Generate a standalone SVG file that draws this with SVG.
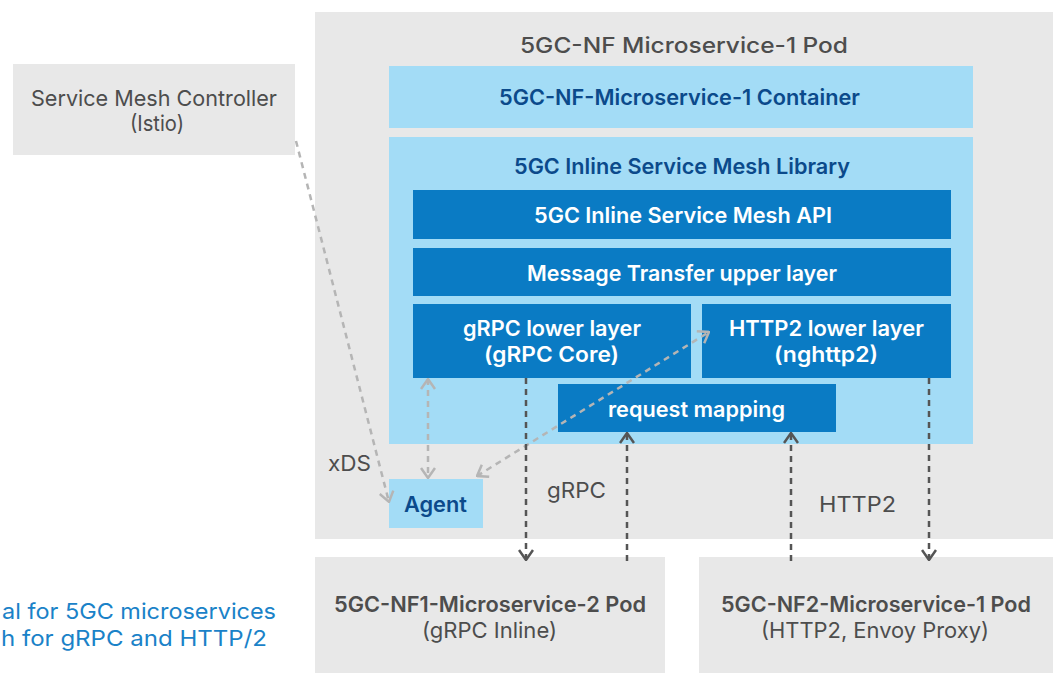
<svg xmlns="http://www.w3.org/2000/svg" width="1053" height="673" viewBox="0 0 1053 673">
  <style>
    .pod { fill: #e8e8e8; }
    .lblue { fill: #a3dcf6; }
    .dblue { fill: #0a7bc4; }
    text { font-family: "Inter", "Liberation Sans", sans-serif; }
    .gray { fill: #4d4d4d; font-size: 22px; }
    .title { fill: #4d4d4d; font-size: 22px; font-weight: 500; }
    .navy { fill: #0b4a8b; font-size: 21.5px; font-weight: 600; }
    .white { fill: #ffffff; font-size: 21.5px; font-weight: 600; }
    .caption { fill: #1a82c8; font-size: 22px; }
    .light { fill: none; stroke: #b5b5b5; stroke-width: 2.5; stroke-dasharray: 6 5; }
    .dark { fill: none; stroke: #555555; stroke-width: 2.5; stroke-dasharray: 6 5; }
  </style>
  <defs>
    <marker id="chevLight" viewBox="0 0 12 16" refX="11" refY="8" markerWidth="12" markerHeight="16" markerUnits="userSpaceOnUse" orient="auto-start-reverse">
      <path d="M1,1 L11,8 L1,15" fill="none" stroke="#b5b5b5" stroke-width="2.5"/>
    </marker>
    <marker id="chevDark" viewBox="0 0 12 16" refX="11" refY="8" markerWidth="12" markerHeight="16" markerUnits="userSpaceOnUse" orient="auto-start-reverse">
      <path d="M1,1 L11,8 L1,15" fill="none" stroke="#555555" stroke-width="2.5"/>
    </marker>
  </defs>

  <rect width="1053" height="673" fill="#ffffff"/>

  <!-- caption fragment at left -->
  <g id="caption">
    <text class="caption" x="2" y="619" textLength="274" lengthAdjust="spacingAndGlyphs">al for 5GC microservices</text>
    <text class="caption" x="1" y="646" textLength="266" lengthAdjust="spacingAndGlyphs">h for gRPC and HTTP/2</text>
  </g>

  <g id="controller">
    <rect class="pod" x="13" y="64" width="282" height="91"/>
    <text class="gray" x="31" y="106" textLength="246" lengthAdjust="spacingAndGlyphs">Service Mesh Controller</text>
    <text class="gray" x="130" y="131" textLength="54" lengthAdjust="spacingAndGlyphs">(Istio)</text>
  </g>

  <g id="pod-main">
    <rect class="pod" x="315" y="12" width="738" height="527"/>
    <text class="title" x="520" y="53" textLength="328" lengthAdjust="spacingAndGlyphs">5GC-NF Microservice-1 Pod</text>
  </g>

  <g id="container">
    <rect class="lblue" x="389" y="66" width="584" height="62"/>
    <text class="navy" x="499" y="105" textLength="361" lengthAdjust="spacingAndGlyphs">5GC-NF-Microservice-1 Container</text>
  </g>

  <g id="library">
    <rect class="lblue" x="389" y="137" width="584" height="307"/>
    <text class="navy" x="514" y="174" textLength="336" lengthAdjust="spacingAndGlyphs">5GC Inline Service Mesh Library</text>
  </g>

  <g id="api">
    <rect class="dblue" x="413" y="190" width="538" height="49"/>
    <text class="white" x="534" y="223" textLength="298" lengthAdjust="spacingAndGlyphs">5GC Inline Service Mesh API</text>
  </g>

  <g id="transfer">
    <rect class="dblue" x="413" y="248" width="538" height="48"/>
    <text class="white" x="527" y="281" textLength="310" lengthAdjust="spacingAndGlyphs">Message Transfer upper layer</text>
  </g>

  <g id="grpc-lower">
    <rect class="dblue" x="413" y="304" width="278" height="74"/>
    <text class="white" x="463" y="336" textLength="178" lengthAdjust="spacingAndGlyphs">gRPC lower layer</text>
    <text class="white" x="484" y="362" textLength="135" lengthAdjust="spacingAndGlyphs">(gRPC Core)</text>
  </g>

  <g id="http2-lower">
    <rect class="dblue" x="702" y="304" width="249" height="74"/>
    <text class="white" x="729" y="336" textLength="195" lengthAdjust="spacingAndGlyphs">HTTP2 lower layer</text>
    <text class="white" x="774" y="362" textLength="104" lengthAdjust="spacingAndGlyphs">(nghttp2)</text>
  </g>

  <g id="request-mapping">
    <rect class="dblue" x="558" y="384" width="278" height="48"/>
    <text class="white" x="608" y="417" textLength="177" lengthAdjust="spacingAndGlyphs">request mapping</text>
  </g>

  <g id="agent">
    <rect class="lblue" x="389" y="479" width="94" height="49"/>
    <text class="navy" x="404" y="512" textLength="63" lengthAdjust="spacingAndGlyphs">Agent</text>
  </g>

  <g id="pod-nf1">
    <rect class="pod" x="315" y="557" width="350" height="116"/>
    <text class="title" x="334" y="612" textLength="312" lengthAdjust="spacingAndGlyphs" style="font-weight:600">5GC-NF1-Microservice-2 Pod</text>
    <text class="gray" x="422" y="638" textLength="135" lengthAdjust="spacingAndGlyphs">(gRPC Inline)</text>
  </g>

  <g id="pod-nf2">
    <rect class="pod" x="699" y="557" width="354" height="116"/>
    <text class="title" x="721" y="612" textLength="310" lengthAdjust="spacingAndGlyphs" style="font-weight:600">5GC-NF2-Microservice-1 Pod</text>
    <text class="gray" x="761" y="638" textLength="228" lengthAdjust="spacingAndGlyphs">(HTTP2, Envoy Proxy)</text>
  </g>

  <g id="connectors">
    <!-- xDS from controller to agent -->
    <line class="light" x1="296" y1="141" x2="389" y2="502" marker-end="url(#chevLight)"/>
    <!-- agent to gRPC lower layer -->
    <line class="light" x1="428" y1="379" x2="428" y2="478" marker-start="url(#chevLight)" marker-end="url(#chevLight)"/>
    <!-- agent to HTTP2 lower layer -->
    <line class="light" x1="477" y1="476" x2="709" y2="332" marker-start="url(#chevLight)" marker-end="url(#chevLight)"/>
    <!-- gRPC outbound / inbound -->
    <line class="dark" x1="526" y1="378" x2="526" y2="560" marker-end="url(#chevDark)"/>
    <line class="dark" x1="627" y1="561" x2="627" y2="433" marker-end="url(#chevDark)"/>
    <!-- HTTP2 inbound / outbound -->
    <line class="dark" x1="791" y1="561" x2="791" y2="433" marker-end="url(#chevDark)"/>
    <line class="dark" x1="929" y1="378" x2="929" y2="560" marker-end="url(#chevDark)"/>
    <text class="gray" x="328" y="471" textLength="43" lengthAdjust="spacingAndGlyphs">xDS</text>
    <text class="gray" x="547" y="498" textLength="59" lengthAdjust="spacingAndGlyphs">gRPC</text>
    <text class="gray" x="819" y="512" textLength="77" lengthAdjust="spacingAndGlyphs">HTTP2</text>
  </g>
</svg>
